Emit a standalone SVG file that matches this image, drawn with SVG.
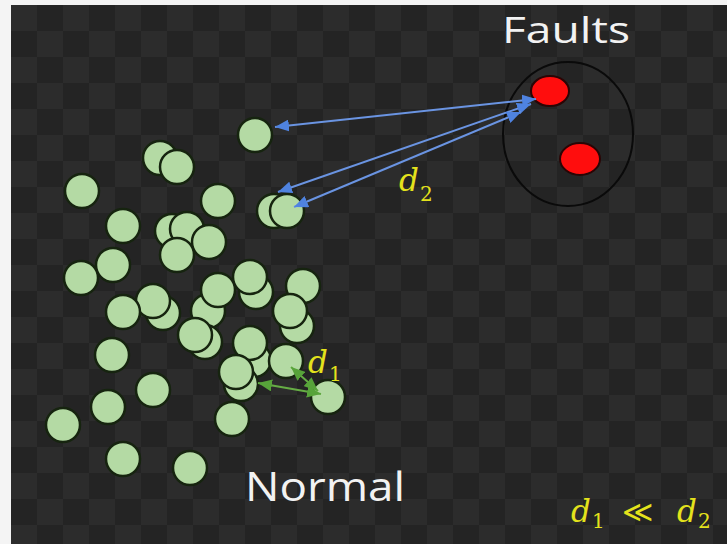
<svg xmlns="http://www.w3.org/2000/svg" width="727" height="544" viewBox="0 0 727 544">
<style>
.n{fill:#b4daa4;stroke:#16240f;stroke-width:2.5}
.f{fill:#ff0d0d;stroke:#2a0505;stroke-width:2}
.bl{stroke:#6a94e2;stroke-width:2;fill:none}
.gl{stroke:#66ad45;stroke-width:2;fill:none}
.lbl{font-family:"Open Sans","Noto Sans",sans-serif;fill:#f2f2f2}
.m{font-family:"DejaVu Serif","Liberation Serif",serif;fill:#e4e21c}
</style>
<defs>
<pattern id="chk" x="11" y="5" width="52" height="52" patternUnits="userSpaceOnUse">
<rect width="52" height="52" fill="#242424"/>
<rect width="26" height="26" fill="#2c2c2c"/>
<rect x="26" y="26" width="26" height="26" fill="#2c2c2c"/>
</pattern>
<marker id="ab" viewBox="0 0 14 12" refX="14" refY="6" markerWidth="14" markerHeight="12" markerUnits="userSpaceOnUse" orient="auto-start-reverse">
<path d="M0,0 L14,6 L0,12 Z" fill="#4f83e0"/>
</marker>
<marker id="ag" viewBox="0 0 14 12" refX="14" refY="6" markerWidth="14" markerHeight="12" markerUnits="userSpaceOnUse" orient="auto-start-reverse">
<path d="M0,0 L14,6 L0,12 Z" fill="#57a33a"/>
</marker>
</defs>
<rect width="727" height="544" fill="#f4f4f4"/>
<rect x="11" y="5" width="716" height="539" fill="url(#chk)"/>

<g id="normal-points">
<circle class="n" cx="255" cy="135" r="17"/>
<circle class="n" cx="160" cy="158" r="17"/>
<circle class="n" cx="177" cy="167" r="17"/>
<circle class="n" cx="82" cy="191" r="17"/>
<circle class="n" cx="218" cy="201" r="17"/>
<circle class="n" cx="123" cy="226" r="17"/>
<circle class="n" cx="172" cy="231" r="17"/>
<circle class="n" cx="187" cy="229" r="17"/>
<circle class="n" cx="209" cy="242" r="17"/>
<circle class="n" cx="177" cy="255" r="17"/>
<circle class="n" cx="274" cy="211" r="17"/>
<circle class="n" cx="287" cy="211" r="17"/>
<circle class="n" cx="113" cy="265" r="17"/>
<circle class="n" cx="81" cy="278" r="17"/>
<circle class="n" cx="256" cy="292" r="17"/>
<circle class="n" cx="250" cy="277" r="17"/>
<circle class="n" cx="208" cy="311" r="17"/>
<circle class="n" cx="218" cy="290" r="17"/>
<circle class="n" cx="303" cy="286" r="17"/>
<circle class="n" cx="297" cy="326" r="17"/>
<circle class="n" cx="290" cy="311" r="17"/>
<circle class="n" cx="163" cy="313" r="17"/>
<circle class="n" cx="153" cy="301" r="17"/>
<circle class="n" cx="123" cy="312" r="17"/>
<circle class="n" cx="205" cy="342" r="17"/>
<circle class="n" cx="195" cy="335" r="17"/>
<circle class="n" cx="254" cy="360" r="17"/>
<circle class="n" cx="250" cy="343" r="17"/>
<circle class="n" cx="286" cy="361" r="17"/>
<circle class="n" cx="112" cy="355" r="17"/>
<circle class="n" cx="241" cy="384" r="17"/>
<circle class="n" cx="236" cy="372" r="17"/>
<circle class="n" cx="153" cy="390" r="17"/>
<circle class="n" cx="108" cy="407" r="17"/>
<circle class="n" cx="63" cy="425" r="17"/>
<circle class="n" cx="328" cy="397" r="17"/>
<circle class="n" cx="232" cy="419" r="17"/>
<circle class="n" cx="123" cy="459" r="17"/>
<circle class="n" cx="190" cy="468" r="17"/>
</g>

<g id="faults-cluster">
<ellipse cx="568" cy="134" rx="65" ry="72" fill="none" stroke="#0a0a0a" stroke-width="2"/>
<ellipse class="f" cx="550" cy="91" rx="19" ry="15"/>
<ellipse class="f" cx="580" cy="159" rx="20" ry="16"/>
</g>

<g id="connectors">
<line class="bl" x1="275" y1="127" x2="536" y2="99" marker-start="url(#ab)" marker-end="url(#ab)"/>
<line class="bl" x1="278" y1="192" x2="531" y2="104" marker-start="url(#ab)" marker-end="url(#ab)"/>
<line class="bl" x1="294" y1="207" x2="521" y2="112" marker-start="url(#ab)" marker-end="url(#ab)"/>
<line class="gl" x1="258" y1="383" x2="321" y2="394" marker-start="url(#ag)" marker-end="url(#ag)"/>
<line class="gl" x1="291" y1="367" x2="318" y2="391" marker-start="url(#ag)" marker-end="url(#ag)"/>
</g>

<g id="labels">
<text class="m" x="399" y="191" font-size="31" font-style="italic">d</text>
<text class="m" x="420" y="201" font-size="20">2</text>
<text class="m" x="308" y="373" font-size="31" font-style="italic">d</text>
<text class="m" x="329" y="381" font-size="20">1</text>
<text class="lbl" x="502" y="43" font-size="37" textLength="128" lengthAdjust="spacingAndGlyphs">Faults</text>
<text class="lbl" x="245" y="501" font-size="41" textLength="160" lengthAdjust="spacingAndGlyphs">Normal</text>
<text class="m" x="571" y="522" font-size="31" font-style="italic">d</text>
<text class="m" x="592" y="528" font-size="20">1</text>
<text class="m" x="622" y="522" font-size="30">≪</text>
<text class="m" x="677" y="522" font-size="31" font-style="italic">d</text>
<text class="m" x="698" y="528" font-size="20">2</text>
</g>
</svg>
